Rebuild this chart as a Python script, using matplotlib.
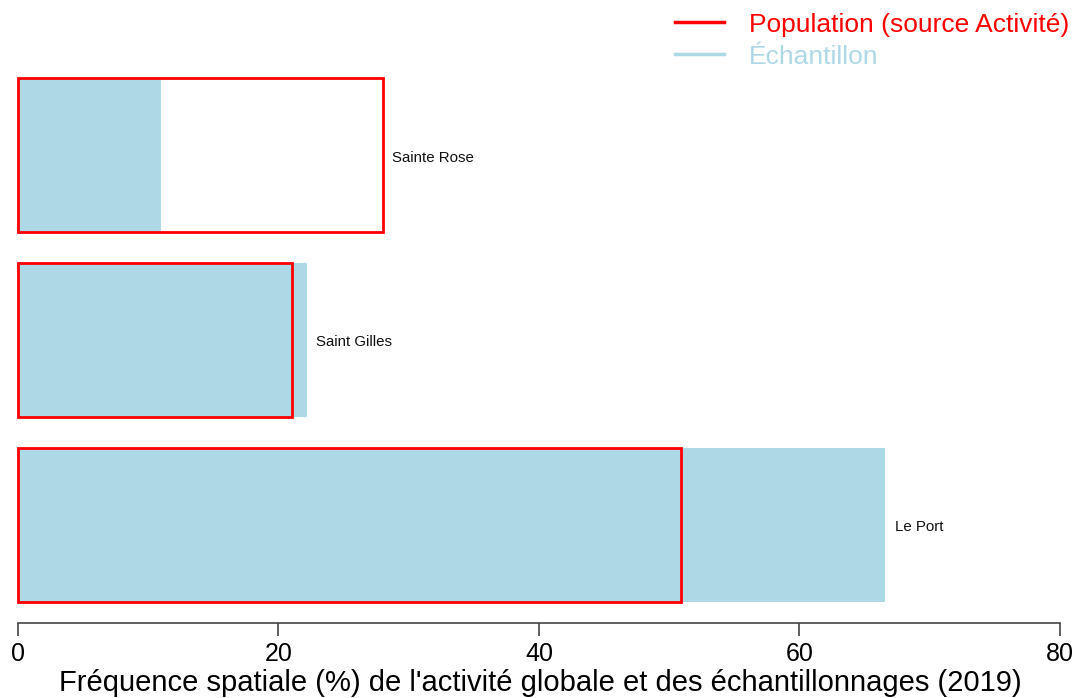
import matplotlib
matplotlib.use("Agg")
import matplotlib.pyplot as plt
from matplotlib.lines import Line2D

plt.rcParams['font.family'] = ['Liberation Sans', 'DejaVu Sans']

# data (bottom to top)
sites = ["Le Port", "Saint Gilles", "Sainte Rose"]
population = [50.9, 21.0, 28.0]   # % activite globale
echantillon = [66.6, 22.2, 11.0]  # % echantillonnages
ticks = [0, 20, 40, 60, 80]

blue = "#add8e6"
red = "#ff0000"

fig = plt.figure(figsize=(10.8, 6.98), dpi=100)
ax = fig.add_axes([0, 0.1075, 1, 0.8105])

# R barplot style positions: width 1, space 0.2
ypos = [0.7 + 1.2 * i for i in range(len(sites))]

ax.barh(ypos, echantillon, height=1, color=blue, edgecolor="none", zorder=1)
ax.barh(ypos, population, height=1, facecolor="none", edgecolor=red, linewidth=2, zorder=2)

for y, p, e, name in zip(ypos, population, echantillon, sites):
    ax.text(max(p, e) + 0.7, y - 0.015, name, va="center", ha="left", fontsize=10.8, color="#111111")

ax.set_xlim(-1.382, 81.54)
ax.set_ylim(0.064, 3.736)
ax.set_yticks([])
ax.set_xticks(ticks)
ax.set_xticklabels([str(t) for t in ticks], fontsize=18)
ax.tick_params(axis="x", length=9, width=1.2, color="#444444", pad=5)
for s in ["top", "right", "left"]:
    ax.spines[s].set_visible(False)
ax.spines["bottom"].set_bounds(0, 80)
ax.spines["bottom"].set_color("#444444")
ax.spines["bottom"].set_linewidth(1.2)
ax.set_xlabel("Fréquence spatiale (%) de l'activité globale et des échantillonnages (2019)",
              fontsize=21, labelpad=1.8)

handles = [Line2D([], [], color=red, lw=2.5), Line2D([], [], color=blue, lw=2.5)]
leg = fig.legend(handles, ["Population (source Activité)", "Échantillon"],
                 loc="upper right", bbox_to_anchor=(1.0, 0.997), frameon=False,
                 fontsize=19, handlelength=1.85, handletextpad=0.95, labelspacing=0.3,
                 borderaxespad=0)
for txt, c in zip(leg.get_texts(), [red, blue]):
    txt.set_color(c)

fig.savefig("out.png", dpi=100)
